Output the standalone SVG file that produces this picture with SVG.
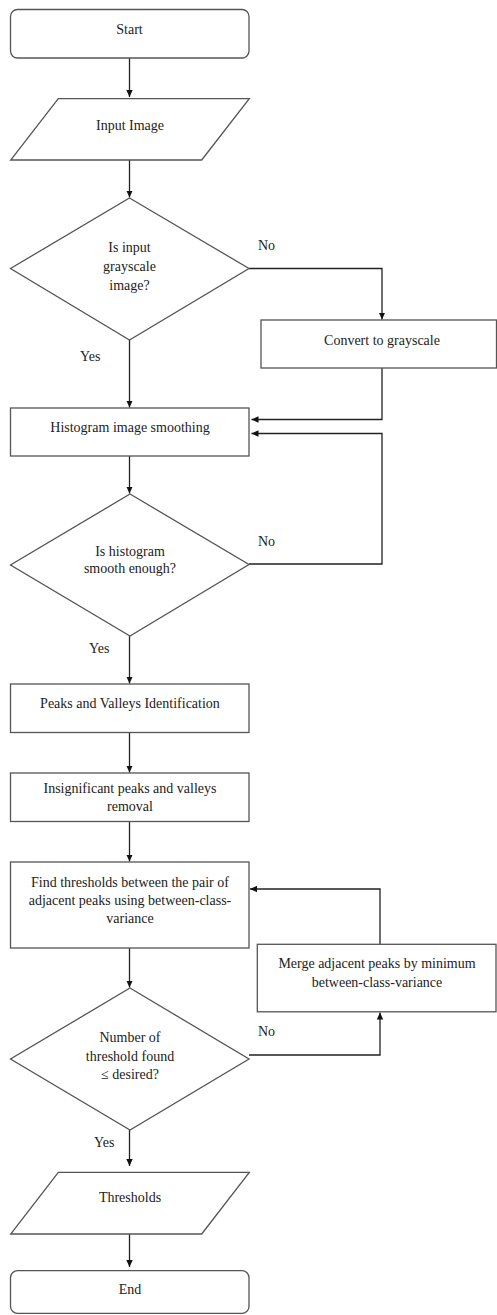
<svg xmlns="http://www.w3.org/2000/svg" width="497" height="1315" viewBox="0 0 497 1315">
<style>
.n{fill:#fff;stroke:#555;stroke-width:1.3}
.t{text-anchor:middle}
.c{fill:none;stroke:#222;stroke-width:1.3}
</style>
<defs>
<marker id="ah" markerUnits="userSpaceOnUse" markerWidth="8" markerHeight="8" refX="7" refY="4" orient="auto">
<path d="M0,0.8 L7,4 L0,7.2 Z" fill="#111"/>
</marker>
</defs>
<rect width="497" height="1315" fill="#fff"/>
<g font-family="Liberation Serif, DejaVu Serif, serif" font-size="14" fill="#222">
<g id="connectors">
<path class="c" d="M129.5 58 V97" marker-end="url(#ah)"/>
<path class="c" d="M129.5 160 V197.5" marker-end="url(#ah)"/>
<path class="c" d="M129.5 340 V407.5" marker-end="url(#ah)"/>
<path class="c" d="M249 268.5 H382 V319.5" marker-end="url(#ah)"/>
<path class="c" d="M382 368 V419.5 H251.5" marker-end="url(#ah)"/>
<path class="c" d="M129.5 456 V493.5" marker-end="url(#ah)"/>
<path class="c" d="M249 564 H382 V433.5 H251.5" marker-end="url(#ah)"/>
<path class="c" d="M129.5 636 V683.5" marker-end="url(#ah)"/>
<path class="c" d="M129.5 732.5 V772.5" marker-end="url(#ah)"/>
<path class="c" d="M129.5 821.5 V861.5" marker-end="url(#ah)"/>
<path class="c" d="M129.5 948 V987.5" marker-end="url(#ah)"/>
<path class="c" d="M249 1055 H380 V1012.5" marker-end="url(#ah)"/>
<path class="c" d="M380 944 V889 H250" marker-end="url(#ah)"/>
<path class="c" d="M129.5 1130 V1166" marker-end="url(#ah)"/>
<path class="c" d="M129.5 1230 V1267" marker-end="url(#ah)"/>
<text x="258" y="250">No</text>
<text x="80" y="361">Yes</text>
<text x="258" y="545.5">No</text>
<text x="89" y="653">Yes</text>
<text x="258" y="1035.5">No</text>
<text x="94" y="1147">Yes</text>
</g>
<g id="start">
<rect class="n" x="10.5" y="9.5" width="238.5" height="48.5" rx="7"/>
<text class="t" x="129.5" y="33.5">Start</text>
</g>
<g id="input">
<polygon class="n" points="58.3,98.7 249.3,98.7 201.7,160 10.7,160"/>
<text class="t" x="130" y="130">Input Image</text>
</g>
<g id="d1">
<polygon class="n" points="129.5,198 249,268.5 129.5,340 10.5,268.5"/>
<text class="t" x="129.5" y="252">Is input</text>
<text class="t" x="129.5" y="271">grayscale</text>
<text class="t" x="129.5" y="290">image?</text>
</g>
<g id="convert">
<rect class="n" x="261" y="320" width="235.5" height="48"/>
<text class="t" x="382" y="345">Convert to grayscale</text>
</g>
<g id="hist">
<rect class="n" x="10.5" y="408" width="238.5" height="48"/>
<text class="t" x="130" y="432">Histogram image smoothing</text>
</g>
<g id="d2">
<polygon class="n" points="130,494 249,564.5 130,636 10.5,565"/>
<text class="t" x="130" y="555.5">Is histogram</text>
<text class="t" x="130" y="573">smooth enough?</text>
</g>
<g id="peaks">
<rect class="n" x="10.5" y="684" width="238.5" height="48.5"/>
<text class="t" x="130" y="707.5">Peaks and Valleys Identification</text>
</g>
<g id="insig">
<rect class="n" x="10.5" y="773" width="238.5" height="48.5"/>
<text class="t" x="130" y="792.5">Insignificant peaks and valleys</text>
<text class="t" x="130" y="810.5">removal</text>
</g>
<g id="find">
<rect class="n" x="10.5" y="862" width="238.5" height="86"/>
<text class="t" x="130" y="886.5">Find thresholds between the pair of</text>
<text class="t" x="130" y="905">adjacent peaks using between-class-</text>
<text class="t" x="130" y="923">variance</text>
</g>
<g id="merge">
<rect class="n" x="257.3" y="944.3" width="238.7" height="67.5"/>
<text class="t" x="377" y="968">Merge adjacent peaks by minimum</text>
<text class="t" x="377" y="986.5">between-class-variance</text>
</g>
<g id="d3">
<polygon class="n" points="130,988 249,1059 130,1130 10.5,1059"/>
<text class="t" x="130" y="1042">Number of</text>
<text class="t" x="130" y="1060.5">threshold found</text>
<text class="t" x="130" y="1079">≤ desired?</text>
</g>
<g id="thresholds">
<polygon class="n" points="58.3,1172.3 249.3,1172.3 201.7,1234 10.7,1234"/>
<text class="t" x="130" y="1202">Thresholds</text>
</g>
<g id="end">
<rect class="n" x="10.5" y="1270.7" width="238.5" height="42.6" rx="7"/>
<text class="t" x="130" y="1294">End</text>
</g>
</g>
</svg>
